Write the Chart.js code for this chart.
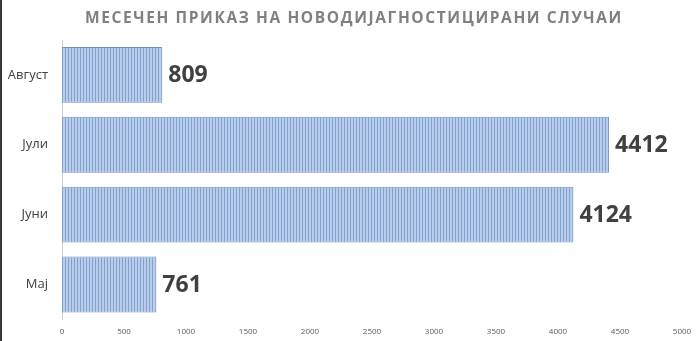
<!DOCTYPE html>
<html>
<head>
<meta charset="utf-8">
<script src="https://cdn.jsdelivr.net/npm/chart.js@4/dist/chart.umd.min.js"></script>
<style>
  html, body { margin: 0; padding: 0; background: #fff; }
  .frame {
    position: relative; width: 698px; height: 341px;
    border-left: 2px solid #3a3a3a; overflow: hidden;
  }
  .title {
    position: absolute; left: 0; top: 0; width: 698px;
    height: 36px; line-height: 34px; text-align: center;
    font-family: "Open Sans", sans-serif; font-weight: bold; font-size: 15.5px;
    letter-spacing: 1.6px; color: #808080; padding-left: 6px; box-sizing: border-box;
    z-index: 2;
  }
  .plot { position: absolute; left: 0; top: 0; width: 698px; height: 341px; }
</style>
</head>
<body>
<div class="frame">
  <div class="plot"><canvas id="chart"></canvas></div>
  <div class="title">МЕСЕЧЕН ПРИКАЗ НА НОВОДИЈАГНОСТИЦИРАНИ СЛУЧАИ</div>
</div>
<script>
const months = ['Август', 'Јули', 'Јуни', 'Мај'];
const cases = [809, 4412, 4124, 761];
const xTicks = [0, 500, 1000, 1500, 2000, 2500, 3000, 3500, 4000, 4500, 5000];

// vertical stripes like the original fill
function stripePattern() {
  const c = document.createElement('canvas');
  c.width = 3;
  c.height = 4;
  const g = c.getContext('2d');
  g.fillStyle = '#b9cde8';
  g.fillRect(0, 0, 3, 4);
  g.fillStyle = '#82a3d1';
  g.fillRect(0, 0, 1, 4);
  return g.createPattern(c, 'repeat');
}

const valueLabels = {
  id: 'valueLabels',
  afterDatasetsDraw(chart) {
    const ctx = chart.ctx;
    const meta = chart.getDatasetMeta(0);
    ctx.save();
    ctx.font = 'bold 23px "Open Sans", sans-serif';
    ctx.fillStyle = '#404040';
    ctx.textAlign = 'left';
    ctx.textBaseline = 'middle';
    meta.data.forEach((bar, i) => {
      ctx.fillText(String(cases[i]), bar.x + 6, bar.y + 1);
    });
    ctx.restore();
  },
};

new Chart(document.getElementById('chart'), {
  type: 'bar',
  data: {
    labels: months,
    datasets: [{
      data: cases,
      backgroundColor: stripePattern(),
      borderColor: '#6d92c6',
      borderWidth: 1,
      borderSkipped: 'left',
      barPercentage: 0.8,
      categoryPercentage: 1,
    }],
  },
  options: {
    indexAxis: 'y',
    responsive: true,
    maintainAspectRatio: false,
    animation: false,
    layout: {padding: {top: 40, right: 18, bottom: 4, left: 0}},
    plugins: {
      legend: {display: false},
      tooltip: {enabled: false},
    },
    scales: {
      x: {
        min: 0,
        max: 5000,
        afterBuildTicks: (scale) => {
          scale.ticks = xTicks.map((v) => ({value: v}));
        },
        grid: {display: false},
        border: {display: false},
        ticks: {
          color: '#595959',
          font: {family: '"Open Sans", sans-serif', size: 8},
          padding: 0,
          maxRotation: 0,
          callback: (v) => String(v),
        },
      },
      y: {
        afterFit: (scale) => {
          scale.width = 60;
        },
        grid: {display: false},
        border: {display: true, color: '#d0d0d0', width: 1},
        ticks: {
          color: '#404040',
          font: {family: '"Open Sans", sans-serif', size: 13},
          padding: 6,
        },
      },
    },
  },
  plugins: [valueLabels],
});
</script>
</body>
</html>
